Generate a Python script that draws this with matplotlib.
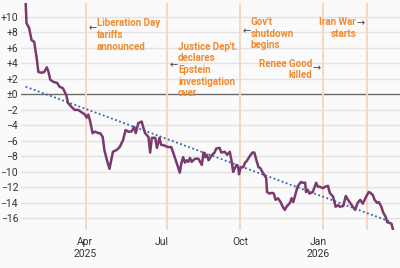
import matplotlib
matplotlib.use("Agg")
from matplotlib import pyplot as plt
import datetime as dt

plt.rcParams['font.family'] = ['Liberation Sans Narrow', 'Roboto', 'DejaVu Sans']

# index values
dates = ["2025-01-21", "2025-01-22", "2025-01-25", "2025-01-28", "2025-01-31", "2025-02-03",
         "2025-02-05", "2025-02-09", "2025-02-12", "2025-02-15", "2025-02-17", "2025-02-19",
         "2025-02-23", "2025-02-27", "2025-03-02", "2025-03-06", "2025-03-10", "2025-03-12",
         "2025-03-16", "2025-03-20", "2025-03-24", "2025-03-28", "2025-04-01", "2025-04-03",
         "2025-04-05", "2025-04-07", "2025-04-10", "2025-04-13", "2025-04-17", "2025-04-19",
         "2025-04-22", "2025-04-24", "2025-04-27", "2025-04-30", "2025-05-02", "2025-05-04",
         "2025-05-08", "2025-05-12", "2025-05-16", "2025-05-19", "2025-05-22", "2025-05-26",
         "2025-05-29", "2025-05-31", "2025-06-03", "2025-06-07", "2025-06-09", "2025-06-11",
         "2025-06-15", "2025-06-17", "2025-06-19", "2025-06-23", "2025-06-25", "2025-06-28",
         "2025-06-30", "2025-07-04", "2025-07-08", "2025-07-12", "2025-07-16", "2025-07-20",
         "2025-07-22", "2025-07-24", "2025-07-26", "2025-07-28", "2025-07-30", "2025-08-01",
         "2025-08-03", "2025-08-05", "2025-08-09", "2025-08-13", "2025-08-17", "2025-08-19",
         "2025-08-21", "2025-08-23", "2025-08-25", "2025-08-29", "2025-09-01", "2025-09-03",
         "2025-09-07", "2025-09-09", "2025-09-13", "2025-09-16", "2025-09-19", "2025-09-21",
         "2025-09-23", "2025-09-25", "2025-09-27", "2025-09-29", "2025-09-30", "2025-10-02",
         "2025-10-05", "2025-10-07", "2025-10-09", "2025-10-13", "2025-10-16", "2025-10-18",
         "2025-10-21", "2025-10-23", "2025-10-25", "2025-10-28", "2025-11-01", "2025-11-02",
         "2025-11-05", "2025-11-08", "2025-11-10", "2025-11-12", "2025-11-15", "2025-11-18",
         "2025-11-21", "2025-11-23", "2025-11-25", "2025-11-29", "2025-12-01", "2025-12-03",
         "2025-12-06", "2025-12-08", "2025-12-12", "2025-12-14", "2025-12-17", "2025-12-18",
         "2025-12-20", "2025-12-22", "2025-12-26", "2025-12-30", "2026-01-01", "2026-01-03",
         "2026-01-07", "2026-01-10", "2026-01-13", "2026-01-15", "2026-01-19", "2026-01-22",
         "2026-01-25", "2026-01-27", "2026-01-31", "2026-02-03", "2026-02-05", "2026-02-10",
         "2026-02-14", "2026-02-17", "2026-02-20", "2026-02-23", "2026-02-27", "2026-03-02",
         "2026-03-04", "2026-03-07", "2026-03-09", "2026-03-12", "2026-03-14", "2026-03-17",
         "2026-03-19", "2026-03-22", "2026-03-24", "2026-03-27", "2026-03-29", "2026-03-31"]
values = [11.8, 9.2, 8.6, 7.0, 6.8, 4.7,
          2.9, 2.8, 2.9, 3.5, 2.9, 1.9,
          1.6, 1.5, 1.0, 0.8, -0.1, -1.1,
          -1.6, -2.0, -2.0, -2.3, -2.6, -3.0,
          -2.6, -3.4, -5.0, -4.8, -5.0, -5.0,
          -5.5, -7.2, -8.5, -9.6, -8.5, -7.4,
          -7.2, -6.8, -5.9, -4.6, -4.8, -4.8,
          -4.2, -5.0, -3.7, -3.5, -4.3, -5.0,
          -5.5, -7.5, -5.6, -5.6, -6.9, -5.6,
          -6.5, -6.6, -6.8, -6.8, -8.1, -9.4,
          -10.1, -8.8, -8.1, -8.8, -8.5, -8.7,
          -8.2, -8.7, -8.3, -8.3, -9.1, -7.5,
          -8.1, -7.8, -8.5, -7.8, -7.5, -7.0,
          -6.9, -7.5, -7.4, -7.8, -7.4, -8.5,
          -10.0, -9.5, -9.1, -9.4, -10.3, -9.4,
          -9.4, -8.8, -8.6, -7.9, -7.5, -7.5,
          -8.7, -9.4, -9.5, -10.1, -10.8, -12.6,
          -12.8, -12.7, -12.8, -13.6, -13.4, -13.9,
          -14.6, -14.9, -14.5, -14.0, -13.4, -13.9,
          -12.7, -11.9, -11.3, -11.4, -11.4, -12.6,
          -12.3, -12.8, -12.6, -11.4, -11.9, -11.9,
          -12.1, -11.9, -11.8, -12.7, -13.2, -14.5,
          -14.3, -14.5, -14.4, -13.1, -13.5, -14.3,
          -14.9, -14.0, -13.6, -14.1, -13.2, -12.6,
          -12.7, -13.0, -13.6, -14.0, -13.9, -14.5,
          -15.2, -15.8, -16.5, -16.6, -16.7, -17.6]

# linear trend (end points)
trend_dates = ["2025-01-21", "2026-03-27"]
trend_values = [1.0, -16.4]

# events
event_dates = ["2025-04-02", "2025-07-07", "2025-10-01", "2026-01-07", "2026-02-28"]
event_labels = ["Liberation Day\ntariffs\nannounced",
                "Justice Dep't.\ndeclares\nEpstein\ninvestigation\nover",
                "Gov't\nshutdown\nbegins",
                "Renee Good\nkilled",
                "Iran War\nstarts"]
event_label_y = [9.8, 6.8, 10.0, 4.6, 10.0]
event_arrow_y = [8.5, 3.7, 8.2, 3.4, 9.2]
event_side = ["right", "right", "right", "left", "left"]

yticks = list(range(-16, 11, 2))
ytick_labels = [("+%d" % v if v > 0 else ("±0" if v == 0 else "\u2212%d" % -v)) for v in yticks]
xtick_dates = ["2025-04-01", "2025-07-01", "2025-10-01", "2026-01-01"]
xtick_labels = ["Apr\n2025", "Jul", "Oct", "Jan\n2026"]

to_d = lambda s: dt.datetime.strptime(s, "%Y-%m-%d")

bg = "#fafafa"
fig = plt.figure(figsize=(4, 2.68), dpi=100, facecolor=bg)
ax = fig.add_axes([21 / 400, 38 / 268, 379 / 400, 227 / 268], facecolor=bg)

ax.set_ylim(-17.5, 11.8)
ax.set_xlim(dt.datetime(2025, 1, 15, 12), dt.datetime(2026, 4, 8))

for v in yticks:
    if v != 0:
        ax.axhline(v, color="#e2e2e2", lw=1.0, zorder=0)
ax.axhline(0, color="#6b6b6b", lw=1.0, zorder=1)

orange = "#ef8a2e"
for d in event_dates:
    ax.axvline(to_d(d), color="#f7d8bd", lw=1.4, zorder=1)

ax.plot([to_d(d) for d in trend_dates], trend_values, color="#2f63b0",
        lw=1.3, ls=(0, (1, 1.4)), zorder=3)
ax.plot([to_d(d) for d in dates], values, color="#7a3a6f", lw=1.8,
        solid_joinstyle="round", zorder=4)

off = dt.timedelta(days=13)
aoff = dt.timedelta(days=3)
for d, lab, y, ay, side in zip(event_dates, event_labels, event_label_y, event_arrow_y, event_side):
    x = to_d(d)
    if side == "right":
        ax.text(x + off, y, lab, color=orange, fontsize=7, fontweight="bold",
                ha="left", va="top", linespacing=1.2, zorder=5)
        ax.text(x + aoff, ay, "\u2190", color="#444444", fontsize=7,
                ha="left", va="center", family=["DejaVu Sans"], zorder=5)
    else:
        ax.text(x - off, y, lab, color=orange, fontsize=7, fontweight="bold",
                ha="right", va="top", linespacing=1.2, multialignment="right", zorder=5)
        ax.text(x - aoff, ay, "\u2192", color="#444444", fontsize=7,
                ha="right", va="center", family=["DejaVu Sans"], zorder=5)

ax.set_yticks(yticks)
ax.set_yticklabels(ytick_labels)
ax.set_xticks([to_d(d) for d in xtick_dates])
ax.set_xticklabels(xtick_labels)
ax.tick_params(axis="both", length=0, labelsize=7.5, colors="#333333")
ax.tick_params(axis="y", pad=2)
ax.tick_params(axis="x", pad=5)
for s in ax.spines.values():
    s.set_visible(False)

fig.savefig("out.png", dpi=100, facecolor=bg)
